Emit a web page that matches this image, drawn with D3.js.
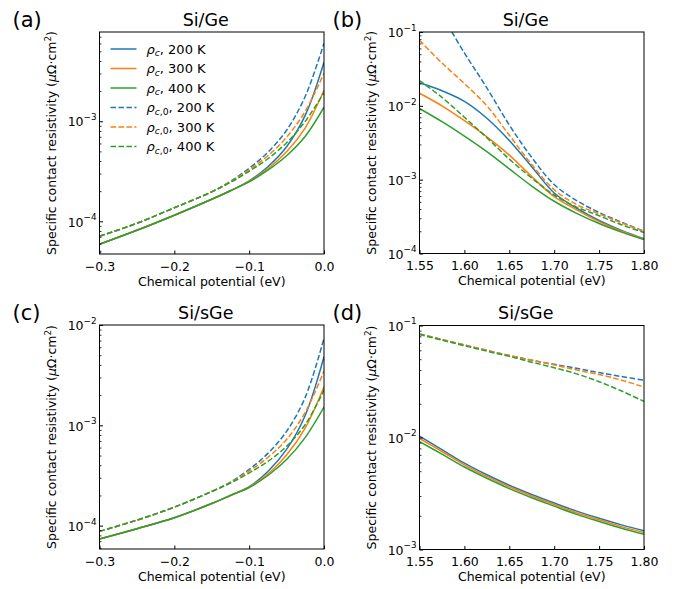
<!DOCTYPE html>
<html>
<head>
<meta charset="utf-8">
<script src="https://cdn.jsdelivr.net/npm/d3@7"></script>
<style>
  body { margin: 0; background: #fff; }
  svg { display: block; }
</style>
</head>
<body>
<script>
const width = 684;
const height = 589;

const blue = "#1f77b4", orange = "#ff7f0e", green = "#2ca02c";
const temps = ["200 K", "300 K", "400 K"];

// (a) Si/Ge, low chemical potential
const xA = [-0.3, -0.25, -0.2, -0.15, -0.125, -0.1, -0.075, -0.05, -0.025, 0];
const aSolid200 = [5.9e-5, 8.13e-5, 1.15e-4, 1.66e-4, 2.02e-4, 2.54e-4, 3.51e-4, 5.56e-4, 1.15e-3, 3.89e-3];
const aSolid300 = [5.9e-5, 8.13e-5, 1.15e-4, 1.66e-4, 2.02e-4, 2.51e-4, 3.35e-4, 4.95e-4, 8.6e-4, 2.04e-3];
const aSolid400 = [5.9e-5, 8.13e-5, 1.15e-4, 1.66e-4, 2.02e-4, 2.48e-4, 3.24e-4, 4.52e-4, 7.08e-4, 1.38e-3];
const aDash200 = [7.08e-5, 9.55e-5, 1.365e-4, 1.97e-4, 2.51e-4, 3.39e-4, 4.9e-4, 8.13e-4, 1.78e-3, 6.03e-3];
const aDash300 = [7.08e-5, 9.55e-5, 1.365e-4, 1.97e-4, 2.48e-4, 3.27e-4, 4.52e-4, 6.92e-4, 1.26e-3, 3.02e-3];
const aDash400 = [7.08e-5, 9.55e-5, 1.365e-4, 1.97e-4, 2.45e-4, 3.16e-4, 4.22e-4, 6.1e-4, 1.0e-3, 1.93e-3];

// (b) Si/Ge, high chemical potential
const xB = [1.55, 1.575, 1.6, 1.625, 1.65, 1.675, 1.7, 1.725, 1.75, 1.775, 1.8];
const xBDash200 = [1.586, 1.6, 1.625, 1.65, 1.675, 1.7, 1.725, 1.75, 1.775, 1.8];
const bSolid200 = [2.05e-2, 1.6e-2, 1.15e-2, 6.8e-3, 3.4e-3, 1.5e-3, 6.6e-4, 4.1e-4, 2.8e-4, 2.05e-4, 1.58e-4];
const bSolid300 = [1.48e-2, 1.0e-2, 6.3e-3, 3.8e-3, 2.15e-3, 1.1e-3, 5.9e-4, 3.9e-4, 2.7e-4, 2.0e-4, 1.56e-4];
const bSolid400 = [9.2e-3, 6.1e-3, 3.9e-3, 2.4e-3, 1.4e-3, 8.2e-4, 5.1e-4, 3.5e-4, 2.55e-4, 1.95e-4, 1.54e-4];
const bDash200 = [0.1, 5.2e-2, 1.75e-2, 5.5e-3, 2.0e-3, 8.6e-4, 5.2e-4, 3.6e-4, 2.65e-4, 2.0e-4];
const bDash300 = [7.7e-2, 3.8e-2, 2.0e-2, 1.0e-2, 4.0e-3, 1.6e-3, 7.3e-4, 4.6e-4, 3.45e-4, 2.6e-4, 1.98e-4];
const bDash400 = [2.2e-2, 1.3e-2, 7.0e-3, 3.7e-3, 1.9e-3, 1.05e-3, 6.2e-4, 4.25e-4, 3.25e-4, 2.45e-4, 1.92e-4];

// (c) Si/sGe, low chemical potential
const xC = [-0.3, -0.25, -0.2, -0.15, -0.125, -0.1, -0.075, -0.05, -0.025, 0];
const cSolid200 = [7.35e-5, 9.33e-5, 1.2e-4, 1.66e-4, 2.0e-4, 2.45e-4, 3.47e-4, 5.75e-4, 1.26e-3, 4.82e-3];
const cSolid300 = [7.35e-5, 9.33e-5, 1.2e-4, 1.66e-4, 2.0e-4, 2.43e-4, 3.27e-4, 5.07e-4, 9.44e-4, 2.42e-3];
const cSolid400 = [7.35e-5, 9.33e-5, 1.2e-4, 1.66e-4, 2.0e-4, 2.4e-4, 3.16e-4, 4.57e-4, 7.59e-4, 1.52e-3];
const cDash200 = [8.77e-5, 1.135e-4, 1.53e-4, 2.19e-4, 2.72e-4, 3.63e-4, 5.25e-4, 8.71e-4, 1.91e-3, 7.36e-3];
const cDash300 = [8.77e-5, 1.135e-4, 1.53e-4, 2.19e-4, 2.69e-4, 3.51e-4, 4.79e-4, 7.24e-4, 1.35e-3, 3.47e-3];
const cDash400 = [8.77e-5, 1.135e-4, 1.53e-4, 2.19e-4, 2.66e-4, 3.35e-4, 4.37e-4, 6.17e-4, 1.02e-3, 2.24e-3];

// (d) Si/sGe, high chemical potential
const xD = [1.55, 1.575, 1.6, 1.625, 1.65, 1.675, 1.7, 1.725, 1.75, 1.775, 1.8];
const dSolid200 = [1.03e-2, 7.8e-3, 5.9e-3, 4.65e-3, 3.75e-3, 3.1e-3, 2.6e-3, 2.2e-3, 1.9e-3, 1.66e-3, 1.47e-3];
const dSolid300 = [9.8e-3, 7.5e-3, 5.7e-3, 4.5e-3, 3.63e-3, 3.0e-3, 2.52e-3, 2.13e-3, 1.84e-3, 1.6e-3, 1.42e-3];
const dSolid400 = [9.2e-3, 7.1e-3, 5.45e-3, 4.33e-3, 3.5e-3, 2.9e-3, 2.44e-3, 2.06e-3, 1.78e-3, 1.55e-3, 1.37e-3];
const dDash200 = [8.4e-2, 7.5e-2, 6.7e-2, 6.0e-2, 5.4e-2, 4.9e-2, 4.5e-2, 4.15e-2, 3.8e-2, 3.5e-2, 3.25e-2];
const dDash300 = [8.4e-2, 7.5e-2, 6.7e-2, 6.0e-2, 5.4e-2, 4.9e-2, 4.45e-2, 4.0e-2, 3.65e-2, 3.25e-2, 2.82e-2];
const dDash400 = [8.3e-2, 7.4e-2, 6.6e-2, 5.9e-2, 5.3e-2, 4.7e-2, 4.2e-2, 3.7e-2, 3.15e-2, 2.6e-2, 2.1e-2];

const xTicksLow = [-0.3, -0.2, -0.1, 0.0];
const xTicksHigh = [1.55, 1.60, 1.65, 1.70, 1.75, 1.80];

const svg = d3.select("body").append("svg")
  .attr("width", width)
  .attr("height", height);

svg.append("rect").attr("width", width).attr("height", height).attr("fill", "#fff");

function zip(xs, ys) {
  return xs.map((x, i) => ({ x: x, y: ys[i] }));
}

function makeSeries(xs, solid, dash, xsDash200) {
  return [
    { data: zip(xs, solid[0]), color: blue, dashed: false },
    { data: zip(xs, solid[1]), color: orange, dashed: false },
    { data: zip(xs, solid[2]), color: green, dashed: false },
    { data: zip(xsDash200 || xs, dash[0]), color: blue, dashed: true },
    { data: zip(xs, dash[1]), color: orange, dashed: true },
    { data: zip(xs, dash[2]), color: green, dashed: true }
  ];
}

const panels = [
  {
    id: "a", title: "Si/Ge", box: { l: 99.5, r: 324, t: 32, b: 254 },
    xDomain: [-0.3, 0], xTicks: xTicksLow, xFmt: d3.format(".1f"),
    yDomain: [4.71e-5, 7.8e-3],
    series: makeSeries(xA, [aSolid200, aSolid300, aSolid400], [aDash200, aDash300, aDash400]),
    legend: true
  },
  {
    id: "b", title: "Si/Ge", box: { l: 419.5, r: 644, t: 32, b: 253.5 },
    xDomain: [1.55, 1.8], xTicks: xTicksHigh, xFmt: d3.format(".2f"),
    yDomain: [1e-4, 1e-1],
    series: makeSeries(xB, [bSolid200, bSolid300, bSolid400], [bDash200, bDash300, bDash400], xBDash200)
  },
  {
    id: "c", title: "Si/sGe", box: { l: 99.5, r: 324, t: 325, b: 549 },
    xDomain: [-0.3, 0], xTicks: xTicksLow, xFmt: d3.format(".1f"),
    yDomain: [5.85e-5, 1e-2],
    series: makeSeries(xC, [cSolid200, cSolid300, cSolid400], [cDash200, cDash300, cDash400])
  },
  {
    id: "d", title: "Si/sGe", box: { l: 419.5, r: 644, t: 325.5, b: 549.5 },
    xDomain: [1.55, 1.8], xTicks: xTicksHigh, xFmt: d3.format(".2f"),
    yDomain: [1e-3, 1e-1],
    series: makeSeries(xD, [dSolid200, dSolid300, dSolid400], [dDash200, dDash300, dDash400])
  }
];

panels.forEach(drawPanel);

function drawPanel(p) {
  const w = p.box.r - p.box.l;
  const h = p.box.b - p.box.t;
  const g = svg.append("g").attr("transform", `translate(${p.box.l},${p.box.t})`);

  const x = d3.scaleLinear().domain(p.xDomain).range([0, w]);
  const y = d3.scaleLog().domain(p.yDomain).range([h, 0]);

  g.append("clipPath").attr("id", "clip-" + p.id)
    .append("rect").attr("width", w).attr("height", h);

  const line = d3.line()
    .x(d => x(d.x))
    .y(d => y(d.y))
    .curve(d3.curveCatmullRom.alpha(0.5));

  g.append("g").attr("clip-path", `url(#clip-${p.id})`)
    .selectAll("path")
    .data(p.series)
    .join("path")
    .attr("fill", "none")
    .attr("stroke", d => d.color)
    .attr("stroke-width", 1.5)
    .attr("stroke-dasharray", d => d.dashed ? "5.55 2.4" : null)
    .attr("d", d => line(d.data));

  // x axis, ticks pointing inward
  const xAxis = g.append("g")
    .attr("transform", `translate(0,${h})`)
    .call(d3.axisBottom(x).tickValues(p.xTicks).tickFormat(p.xFmt)
      .tickSizeInner(-3.5).tickSizeOuter(0).tickPadding(8));
  xAxis.select(".domain").remove();
  xAxis.selectAll("text")
    .attr("font-family", "DejaVu Sans")
    .attr("font-size", 12.5)
    .attr("fill", "#000");

  // y axis (log): major decades + minor ticks
  const lo = Math.ceil(Math.log10(p.yDomain[0]) - 1e-9);
  const hi = Math.floor(Math.log10(p.yDomain[1]) + 1e-9);
  const majors = d3.range(lo, hi + 1).map(k => Math.pow(10, k));
  const minors = [];
  for (let k = lo - 1; k <= hi; k++) {
    for (let m = 2; m <= 9; m++) {
      const v = m * Math.pow(10, k);
      if (v >= p.yDomain[0] && v <= p.yDomain[1]) minors.push(v);
    }
  }

  const yMinor = g.append("g")
    .call(d3.axisLeft(y).tickValues(minors).tickFormat("").tickSizeInner(-2).tickSizeOuter(0));
  yMinor.select(".domain").remove();
  yMinor.selectAll("line").attr("stroke-width", 0.8);

  const yAxis = g.append("g")
    .call(d3.axisLeft(y).tickValues(majors).tickFormat("")
      .tickSizeInner(-3.5).tickSizeOuter(0).tickPadding(3));
  yAxis.select(".domain").remove();
  yAxis.selectAll("text")
    .attr("font-family", "DejaVu Sans")
    .attr("font-size", 12.5)
    .attr("fill", "#000")
    .attr("dy", "0.38em")
    .each(function (d) {
      const t = d3.select(this);
      const k = Math.round(Math.log10(d));
      t.append("tspan").text("10");
      t.append("tspan").attr("font-size", 8.8).attr("dy", "-0.72em")
        .text((k < 0 ? "\u2212" : "") + Math.abs(k));
    });

  // frame
  g.append("rect")
    .attr("width", w).attr("height", h)
    .attr("fill", "none").attr("stroke", "#000").attr("stroke-width", 1);

  // title
  g.append("text")
    .attr("x", w / 2 - 6)
    .attr("y", -6.5)
    .attr("text-anchor", "middle")
    .attr("font-family", "DejaVu Sans")
    .attr("font-size", 17.5)
    .attr("fill", "#000")
    .text(p.title);

  // axis labels
  g.append("text")
    .attr("x", w / 2)
    .attr("y", h + 31.5)
    .attr("text-anchor", "middle")
    .attr("font-family", "DejaVu Sans")
    .attr("font-size", 12.5)
    .attr("fill", "#000")
    .text("Chemical potential (eV)");

  const yl = g.append("text")
    .attr("transform", "rotate(-90)")
    .attr("x", -h / 2)
    .attr("y", -43.5)
    .attr("text-anchor", "middle")
    .attr("font-family", "DejaVu Sans")
    .attr("font-size", 12.5)
    .attr("fill", "#000");
  yl.append("tspan").text("Specific contact resistivity (");
  yl.append("tspan").attr("font-style", "italic").text("\u03bc");
  yl.append("tspan").text("\u03a9\u00b7cm");
  yl.append("tspan").attr("font-size", 8.8).attr("dy", "-0.55em").text("2");
  yl.append("tspan").attr("dy", "0.38em").text(")");

  // panel letter
  svg.append("text")
    .attr("x", p.box.l - 87)
    .attr("y", p.box.t - 5.5)
    .attr("font-family", "DejaVu Sans")
    .attr("font-size", 21)
    .attr("fill", "#000")
    .text(`(${p.id})`);

  if (p.legend) drawLegend(g, p.series);
}

function drawLegend(g, series) {
  const x0 = 11, y0 = 17, step = 19.5;
  series.forEach((s, i) => {
    const yy = y0 + i * step;
    g.append("line")
      .attr("x1", x0).attr("x2", x0 + 26)
      .attr("y1", yy).attr("y2", yy)
      .attr("stroke", s.color).attr("stroke-width", 1.5)
      .attr("stroke-dasharray", s.dashed ? "5.55 2.4" : null);
    const t = g.append("text")
      .attr("x", x0 + 36)
      .attr("y", yy + 4.5)
      .attr("font-family", "DejaVu Sans")
      .attr("font-size", 13)
      .attr("fill", "#000");
    t.append("tspan").attr("font-style", "italic").text("\u03c1");
    t.append("tspan").attr("font-style", "italic").attr("font-size", 9.2).attr("dy", "0.3em").text("c");
    if (s.dashed) t.append("tspan").attr("font-size", 9.2).text(",0");
    t.append("tspan").attr("dy", "-0.21em").text(", " + temps[i % 3]);
  });
}
</script>
</body>
</html>
